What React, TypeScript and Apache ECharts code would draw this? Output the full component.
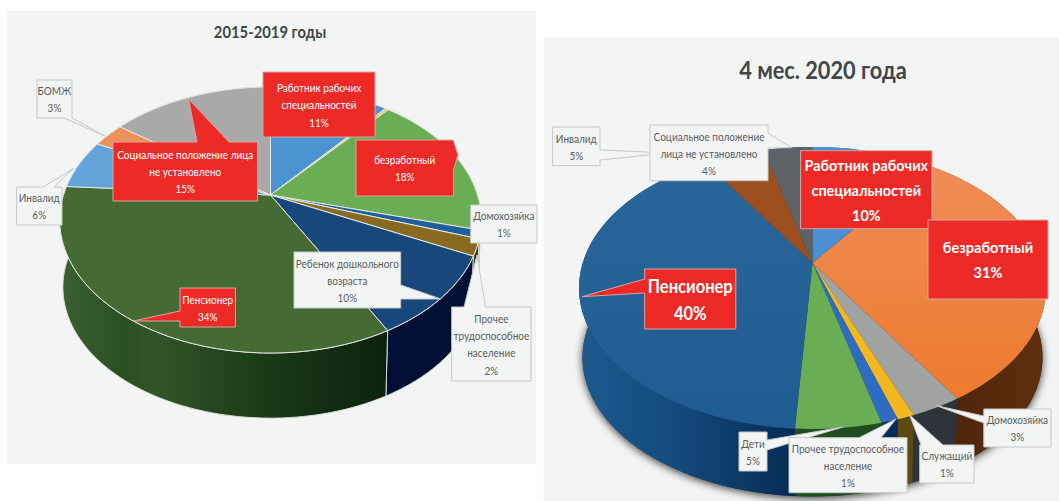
import React, { useEffect, useRef } from "react";
import * as echarts from "echarts";

// Social status of persons, two periods. Slices run clockwise from twelve o'clock.
const leftTitle = "2015-2019 годы";
const leftCategories = [
  "Работник рабочих\nспециальностей",
  "Служащий",
  "безработный",
  "Домохозяйка",
  "Прочее\nтрудоспособное\nнаселение",
  "Ребенок дошкольного\nвозраста",
  "Пенсионер",
  "Инвалид",
  "БОМЖ",
  "Социальное положение лица\nне установлено",
];
const leftValues = [11, 0.3, 18, 1, 2, 10, 34, 6, 3, 15];

const rightTitle = "4 мес. 2020 года";
const rightCategories = [
  "Работник рабочих\nспециальностей",
  "безработный",
  "Домохозяйка",
  "Служащий",
  "Прочее трудоспособное\nнаселение",
  "Дети",
  "Пенсионер",
  "Инвалид",
  "Социальное положение\nлица не установлено",
];
const rightValues = [10, 31, 3, 1, 1, 5, 40, 5, 4];

const leftTop = ["#4c93d2", "#f0c878", "#69ad54", "#20609a", "#8a6a20", "#17477b", "#466a33", "#62a3da", "#ec9159", "#a8a9a9"];
const leftWall = ["#2c5f8e", "#8a6f3a", "#31602a", "#103a60", "#4c3a10", "#020f35", "#1f4018", "#2f628f", "#8a4f28", "#5f6060"];
const rightTop = ["#4a90d2", "#f0813a", "#a1a3a3", "#f2b81f", "#2d6cc0", "#69ad54", "#225f97", "#9d4f20", "#5f6367"];
const rightWall = ["#2a5a8a", "#562809", "#2f343a", "#5d4a12", "#0b2b5c", "#1f4d20", "#134a7a", "#5a2c10", "#34373a"];

type Disc = { cx: number; cy: number; a: number; b: number; k: number; depth: number; shrink: number };
const leftDisc: Disc = { cx: 270.5, cy: 195, a: 207, b: 128.3, k: 0.188, depth: 67.5, shrink: 0.985 };
const rightDisc: Disc = { cx: 812.5, cy: 263, a: 229.8, b: 136.6, k: 0.177, depth: 70, shrink: 0.985 };

const FONT = "Lato";
const PALE_FILL = "#f3f5f5";
const PALE_EDGE = "#c6c9c9";
const RED = "#ee2a27";
const RED_EDGE = "#d8a6a3";
const SQUEEZE = 0.87;

// Perspective projection of a point on the rim of the disc (angle in degrees from the top).
function rim(d: Disc, deg: number, lower: boolean): number[] {
  const t = (deg * Math.PI) / 180;
  const u = Math.sin(t);
  const v = -Math.cos(t);
  const s = 1 / (1 - d.k * v);
  const f = lower ? d.shrink : 1;
  return [d.cx + d.a * f * u * s, d.cy + (lower ? d.depth : 0) + d.b * f * v * s];
}

function arc(d: Disc, from: number, to: number, lower: boolean): number[][] {
  const n = Math.max(2, Math.ceil((to - from) / 1.5));
  const pts: number[][] = [];
  for (let i = 0; i <= n; i++) pts.push(rim(d, from + ((to - from) * i) / n, lower));
  return pts;
}

function sweep(values: number[], index: number) {
  const total = values.reduce((p, c) => p + c, 0);
  let before = 0;
  for (let i = 0; i < index; i++) before += values[i];
  return [(before / total) * 360, ((before + values[index]) / total) * 360];
}

const hGrad = (x0: number, x1: number, stops: [number, string][]) =>
  new echarts.graphic.LinearGradient(x0, 0, x1, 0, stops.map(([offset, color]) => ({ offset, color })), true);
const vGrad = (y0: number, y1: number, stops: [number, string][]) =>
  new echarts.graphic.LinearGradient(0, y0, 0, y1, stops.map(([offset, color]) => ({ offset, color })), true);

function faceSeries(values: number[], d: Disc, fill: (i: number) => any, stroke: string | null) {
  return {
    type: "custom",
    coordinateSystem: "none",
    silent: true,
    z: 3,
    data: values.map((v) => [v]),
    renderItem: (params: any) => {
      const [from, to] = sweep(values, params.dataIndex);
      return {
        type: "polygon",
        shape: { points: [[d.cx, d.cy], ...arc(d, from, to, false)] },
        style: { fill: fill(params.dataIndex), stroke: stroke ?? "none", lineWidth: stroke ? 1 : 0 },
      };
    },
  };
}

function wallSeries(values: number[], d: Disc, fill: (i: number) => any, stroke: string | null) {
  return {
    type: "custom",
    coordinateSystem: "none",
    silent: true,
    z: 2,
    data: values.map((v) => [v]),
    renderItem: (params: any) => {
      const [from, to] = sweep(values, params.dataIndex);
      return {
        type: "polygon",
        shape: { points: [...arc(d, from, to, false), ...arc(d, from, to, true).reverse()] },
        style: { fill: fill(params.dataIndex), stroke: stroke ?? "none", lineWidth: stroke ? 1 : 0 },
      };
    },
  };
}

// Soft shadow thrown by the lower disc of the second pie.
function shadowSeries(d: Disc) {
  return {
    type: "custom",
    coordinateSystem: "none",
    silent: true,
    z: 1,
    data: [[1]],
    renderItem: () => ({
      type: "polygon",
      shape: { points: arc(d, 0, 360, true) },
      style: { fill: "#333", shadowBlur: 9, shadowColor: "rgba(0,0,0,0.75)", shadowOffsetY: 2 },
    }),
  };
}

type Callout = {
  index: number;
  box: number[];
  side?: "top" | "right" | "bottom" | "left";
  base?: number[];
  tip?: number[];
  red?: boolean;
  size: number;
  line: number;
  bold?: boolean;
  squeeze?: number;
};

const leftCallouts: Callout[] = [
  { index: 8, box: [37, 80, 72, 118], side: "bottom", base: [64, 72], tip: [105, 136], size: 11.5, line: 17 },
  { index: 7, box: [16.5, 187, 62, 225], side: "top", base: [43, 54], tip: [74, 168], size: 11.5, line: 17 },
  { index: 9, box: [113, 142, 257.5, 201], side: "top", base: [197, 229], tip: [188.5, 99], red: true, size: 11.5, line: 17 },
  { index: 0, box: [263, 72, 375, 137], red: true, size: 11.5, line: 17.5 },
  { index: 2, box: [356, 140, 453.5, 196], side: "right", base: [141, 170], tip: [458, 155], red: true, size: 11.5, line: 17 },
  { index: 3, box: [470.7, 205, 537, 243], size: 11.5, line: 17 },
  { index: 5, box: [294, 252, 400.7, 308], side: "right", base: [285, 299], tip: [441, 299], size: 11.5, line: 17 },
  { index: 4, box: [451.7, 307, 531, 381], side: "top", base: [464, 485.5], tip: [477, 255], size: 11.5, line: 17.3 },
  { index: 6, box: [180, 288, 235.5, 327], side: "left", base: [311, 321], tip: [133, 321], red: true, size: 11.5, line: 17 },
];

const rightCallouts: Callout[] = [
  { index: 7, box: [552.6, 127, 600, 165.7], side: "right", base: [150, 160], tip: [668, 153], size: 11.5, line: 17 },
  { index: 8, box: [650, 125, 768, 180.7], side: "right", base: [133, 148], tip: [791.5, 147.7], size: 11.5, line: 17 },
  { index: 0, box: [800.6, 150.7, 932, 228.7], red: true, size: 16, line: 25, bold: true, squeeze: 0.9 },
  { index: 1, box: [928, 220, 1048, 299], red: true, size: 16, line: 25, bold: true, squeeze: 0.91 },
  { index: 6, box: [644.7, 269, 735.8, 329], side: "left", base: [279, 293], tip: [582, 296.7], red: true, size: 19, line: 27, bold: true },
  { index: 5, box: [739, 432, 767, 471], side: "right", base: [440, 450], tip: [843, 427], size: 11.5, line: 17 },
  { index: 4, box: [789, 437.7, 907, 492.7], side: "top", base: [859, 881], tip: [896, 419], size: 11.5, line: 17 },
  { index: 3, box: [919.7, 445, 974, 483], side: "top", base: [921, 943], tip: [909.6, 415], size: 11.5, line: 17 },
  { index: 2, box: [983.8, 409, 1051, 447], side: "left", base: [416, 423], tip: [936.5, 405.7], size: 11.5, line: 17 },
];

function calloutOutline(c: Callout): number[][] {
  const [x0, y0, x1, y1] = c.box;
  const top = c.side === "top" && c.base && c.tip ? [[c.base[0], y0], c.tip, [c.base[1], y0]] : [];
  const right = c.side === "right" && c.base && c.tip ? [[x1, c.base[0]], c.tip, [x1, c.base[1]]] : [];
  const bottom = c.side === "bottom" && c.base && c.tip ? [[c.base[1], y1], c.tip, [c.base[0], y1]] : [];
  const left = c.side === "left" && c.base && c.tip ? [[x0, c.base[1]], c.tip, [x0, c.base[0]]] : [];
  return [[x0, y0], ...top, [x1, y0], ...right, [x1, y1], ...bottom, [x0, y1], ...left];
}

function calloutElements(list: Callout[], categories: string[], values: number[]) {
  const out: any[] = [];
  list.forEach((c, i) => {
    out.push({
      type: "polygon",
      silent: true,
      z: 100 + i * 2,
      shape: { points: calloutOutline(c) },
      style: { fill: c.red ? RED : PALE_FILL, stroke: c.red ? RED_EDGE : PALE_EDGE, lineWidth: 1 },
    });
    out.push({
      type: "text",
      silent: true,
      z: 101 + i * 2,
      x: (c.box[0] + c.box[2]) / 2,
      y: (c.box[1] + c.box[3]) / 2,
      scaleX: c.squeeze ?? SQUEEZE,
      style: {
        text: `${categories[c.index]}\n${values[c.index]}%`,
        align: "center",
        verticalAlign: "middle",
        fontFamily: FONT,
        fontSize: c.size,
        fontWeight: c.bold ? 700 : 400,
        lineHeight: c.line,
        fill: c.red ? "#ffffff" : "#5a5d5e",
      },
    });
  });
  return out;
}

function titleElement(text: string, x: number, y: number, size: number) {
  return {
    type: "text",
    silent: true,
    z: 5,
    x,
    y,
    scaleX: SQUEEZE,
    style: { text, align: "center", verticalAlign: "middle", fontFamily: FONT, fontSize: size, fontWeight: 700, fill: "#424647" },
  };
}

export default function App() {
  const ref = useRef<HTMLDivElement>(null);

  useEffect(() => {
    if (!ref.current) return;
    document.body.style.margin = "0";
    document.body.style.background = "#ffffff";
    const chart = echarts.init(ref.current, undefined, { renderer: "svg" });

    const leftWallFill = (i: number) =>
      i === 6
        ? hGrad(60, 385, [
            [0, "#3a5f30"],
            [0.2, "#2a4f20"],
            [0.3, "#33542a"],
            [0.62, "#1b3a17"],
            [1, "#0c220d"],
          ])
        : leftWall[i];
    const rightWallFill = (i: number) =>
      i === 6
        ? hGrad(580, 795, [
            [0, "#1c5a8e"],
            [0.45, "#134a7c"],
            [1, "#062c54"],
          ])
        : i === 1
          ? hGrad(950, 1045, [
              [0, "#4f2409"],
              [1, "#5f300e"],
            ])
          : rightWall[i];
    const rightTopFill = (i: number) =>
      i === 6
        ? vGrad(150, 430, [
            [0, "#2b6799"],
            [1, "#1e5c93"],
          ])
        : i === 1
          ? vGrad(165, 400, [
              [0, "#f08d57"],
              [1, "#ed7a2e"],
            ])
          : rightTop[i];

    chart.setOption({
      animation: false,
      backgroundColor: "#ffffff",
      graphic: {
        elements: [
          { type: "rect", silent: true, z: 0, shape: { x: 7, y: 11, width: 529, height: 453 }, style: { fill: PALE_FILL } },
          { type: "rect", silent: true, z: 0, shape: { x: 543.5, y: 37, width: 516, height: 464 }, style: { fill: PALE_FILL } },
          titleElement(leftTitle, 270, 31, 17),
          titleElement(rightTitle, 823, 69, 25),
          ...calloutElements(leftCallouts, leftCategories, leftValues),
          ...calloutElements(rightCallouts, rightCategories, rightValues),
        ],
      },
      series: [
        wallSeries(leftValues, leftDisc, leftWallFill, "#d9dcd6"),
        faceSeries(leftValues, leftDisc, (i) => leftTop[i], "#e6e8e4"),
        shadowSeries(rightDisc),
        wallSeries(rightValues, rightDisc, rightWallFill, null),
        faceSeries(rightValues, rightDisc, rightTopFill, null),
      ],
    });

    return () => chart.dispose();
  }, []);

  return <div ref={ref} style={{ position: "fixed", left: 0, top: 0, width: 1059, height: 501 }} />;
}
